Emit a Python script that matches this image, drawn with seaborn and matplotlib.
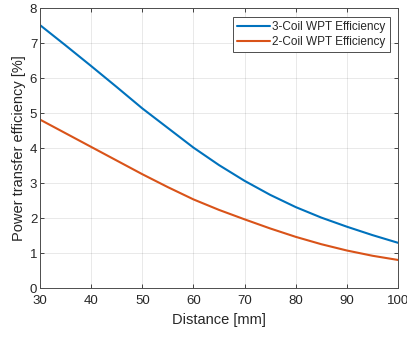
import pandas as pd
import seaborn as sns
from matplotlib import pyplot as plt

distance = [30, 35, 40, 45, 50, 55, 60, 65, 70, 75, 80, 85, 90, 95, 100]
eff_3coil = [7.52, 6.94, 6.35, 5.75, 5.14, 4.58, 4.02, 3.52, 3.07, 2.67, 2.32, 2.02, 1.76, 1.52, 1.30]
eff_2coil = [4.82, 4.43, 4.04, 3.65, 3.26, 2.89, 2.54, 2.24, 1.97, 1.71, 1.47, 1.26, 1.08, 0.93, 0.81]
labels = ["3-Coil WPT Efficiency", "2-Coil WPT Efficiency"]

df = pd.DataFrame({
    "Distance": distance * 2,
    "Efficiency": eff_3coil + eff_2coil,
    "Series": [labels[0]] * len(distance) + [labels[1]] * len(distance),
})

sns.set_style("ticks")
plt.rcParams["font.family"] = ["Liberation Sans", "DejaVu Sans"]
txt = "#262626"

fig = plt.figure(figsize=(4.07, 3.41), dpi=100)
ax = fig.add_axes([0.0983, 0.1545, 0.8797, 0.8212])
sns.lineplot(
    ax=ax, data=df, x="Distance", y="Efficiency", hue="Series",
    palette=["#0072BD", "#D95319"], linewidth=1.5,
)

ax.set_xlim(30, 100)
ax.set_ylim(0, 8)
ax.set_xticks(range(30, 101, 10))
ax.set_yticks(range(0, 9))
ax.grid(True, color="#000000", alpha=0.1, linewidth=0.6)
ax.tick_params(direction="in", top=True, right=True, labelsize=9.5, colors=txt,
               length=3, width=0.6)
ax.tick_params(axis="x", pad=5)
ax.tick_params(axis="y", pad=2)
for s in ax.spines.values():
    s.set_color("#4d4d4d")
    s.set_linewidth(0.7)
ax.set_xlabel("Distance [mm]", fontsize=10.5, color=txt, labelpad=4)
ax.set_ylabel("Power transfer efficiency [%]", fontsize=10.5, color=txt, labelpad=3)

leg = ax.legend(loc="upper right", fontsize=8.5, fancybox=False, framealpha=1,
                edgecolor="#4d4d4d", borderaxespad=0.7, handlelength=2.8,
                handletextpad=0.2, borderpad=0.35, labelspacing=0.3)
leg.get_frame().set_linewidth(0.7)
for t in leg.get_texts():
    t.set_color(txt)

plt.savefig("out.png", dpi=100)
